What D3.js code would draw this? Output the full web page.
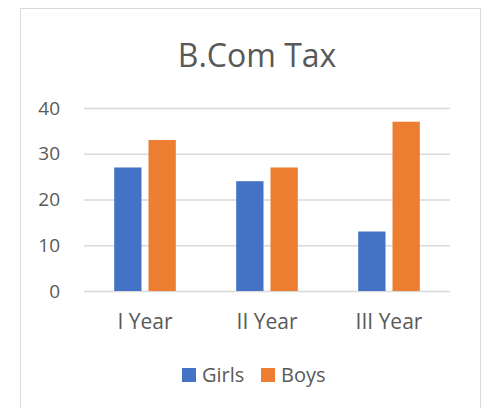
<!DOCTYPE html>
<html>
<head>
<meta charset="utf-8">
<script src="https://cdn.jsdelivr.net/npm/d3@7"></script>
<style>
  html, body { margin: 0; padding: 0; background: #fff; }
  svg text { font-family: "Open Sans", sans-serif; fill: #595959; }
</style>
</head>
<body>
<div id="chart"></div>
<script>
// Data

let categories = [`I Year`, `II Year`, `III Year`]
let seriesNames = [`Girls`, `Boys`]
let girls = [27, 24, 13]
let boys = [33, 27, 37]
let yTicks = [0, 10, 20, 30, 40]

// Colors

let colors = [`#4472C4`, `#ED7D31`]
let grid = `#d9d9d9`

let width = 486
let height = 408

let svg = d3
  .select(`#chart`)
  .append(`svg`)
  .attr(`width`, width)
  .attr(`height`, height)

// Chart border

svg
  .append(`rect`)
  .attr(`x`, 20.5)
  .attr(`y`, 8.5)
  .attr(`width`, 460)
  .attr(`height`, 420)
  .attr(`fill`, `#fff`)
  .attr(`stroke`, grid)

// Title

svg
  .append(`text`)
  .attr(`x`, 257)
  .attr(`y`, 67)
  .attr(`text-anchor`, `middle`)
  .style(`font-size`, `32px`)
  .text(`B.Com Tax`)

// Scales

let x = d3.scaleBand().domain(categories).range([84, 450])
let xSeries = d3.scaleBand().domain(seriesNames).range([0, x.bandwidth()]).paddingInner(0.204).paddingOuter(0.88)
let y = d3.scaleLinear().domain([0, 40]).range([291, 108])

// Gridlines + y labels

let yAxis = svg
  .append(`g`)
  .attr(`transform`, `translate(84,0)`)
  .call(d3.axisLeft(y).tickValues(yTicks).tickSize(-366).tickPadding(24))

yAxis.select(`.domain`).remove()
yAxis.selectAll(`line`).attr(`stroke`, grid).attr(`stroke-width`, 1.3)
yAxis.selectAll(`text`).style(`font-size`, `19px`).attr(`fill`, `#595959`)

// Bars

let rows = categories.map((c, i) => ({ category: c, values: [girls[i], boys[i]] }))

svg
  .append(`g`)
  .selectAll(`g`)
  .data(rows)
  .join(`g`)
  .attr(`transform`, d => `translate(${x(d.category)},0)`)
  .selectAll(`rect`)
  .data(d => d.values.map((v, j) => ({ name: seriesNames[j], value: v, color: colors[j] })))
  .join(`rect`)
  .attr(`x`, d => xSeries(d.name))
  .attr(`y`, d => y(d.value))
  .attr(`width`, xSeries.bandwidth())
  .attr(`height`, d => y(0) - y(d.value))
  .attr(`fill`, d => d.color)

// x labels

let xAxis = svg
  .append(`g`)
  .attr(`transform`, `translate(0,291)`)
  .call(d3.axisBottom(x).tickSize(0).tickPadding(23))

xAxis.select(`.domain`).remove()
xAxis.selectAll(`text`).style(`font-size`, `21px`).attr(`fill`, `#595959`)

// Legend

let legend = svg
  .append(`g`)
  .selectAll(`g`)
  .data(seriesNames)
  .join(`g`)
  .attr(`transform`, (d, i) => `translate(${182 + i * 79},368)`)

legend
  .append(`rect`)
  .attr(`width`, 14)
  .attr(`height`, 14)
  .attr(`fill`, (d, i) => colors[i])

legend
  .append(`text`)
  .attr(`x`, 20)
  .attr(`y`, 14)
  .style(`font-size`, `20px`)
  .text(d => d)
</script>
</body>
</html>
